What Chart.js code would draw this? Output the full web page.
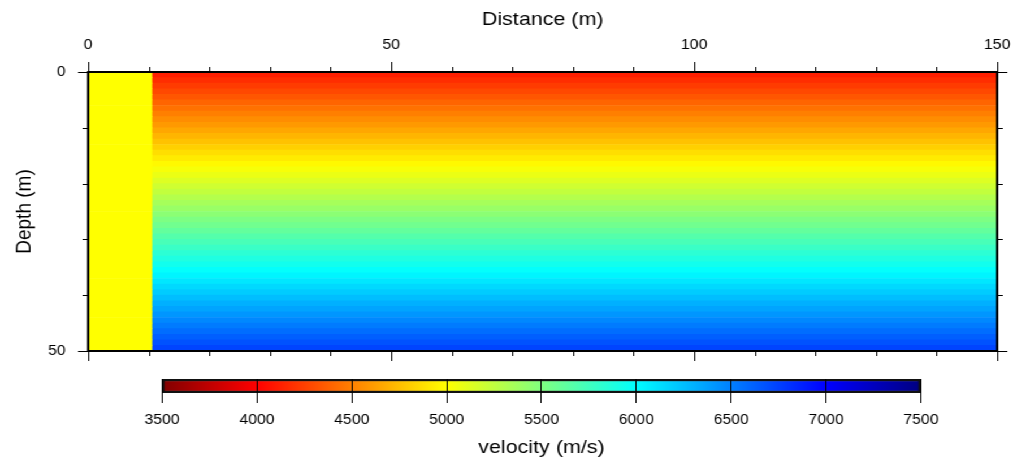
<!DOCTYPE html>
<html>
<head>
<meta charset="utf-8">
<title>Velocity model</title>
<script src="https://cdn.jsdelivr.net/npm/chart.js@4.4.1/dist/chart.umd.min.js"></script>
<style>
  html, body { margin: 0; padding: 0; background: #fff; overflow: hidden; }
  /* the reference is stretched horizontally, so draw narrow and widen */
  #stage { position: absolute; left: 0; top: 0; width: 896px; height: 461px;
           transform: scaleX(1.1306); transform-origin: 0 0; }
  #model { position: absolute; left: 0; top: 0; }
  #bar { position: absolute; left: 0; top: 360px; }
</style>
</head>
<body>
<div id="stage">
  <canvas id="model" width="896" height="372"></canvas>
  <canvas id="bar" width="896" height="101"></canvas>
</div>
<script>
// --- data: 1 m depth bands, velocity in m/s ---
const depthBands = [
  0.5, 1.5, 2.5, 3.5, 4.5, 5.5, 6.5, 7.5, 8.5, 9.5,
  10.5, 11.5, 12.5, 13.5, 14.5, 15.5, 16.5, 17.5, 18.5, 19.5,
  20.5, 21.5, 22.5, 23.5, 24.5, 25.5, 26.5, 27.5, 28.5, 29.5,
  30.5, 31.5, 32.5, 33.5, 34.5, 35.5, 36.5, 37.5, 38.5, 39.5,
  40.5, 41.5, 42.5, 43.5, 44.5, 45.5, 46.5, 47.5, 48.5, 49.5
];
const velocities = [
  4120, 4175, 4230, 4280, 4335, 4390, 4440, 4495, 4550, 4600,
  4655, 4710, 4760, 4815, 4870, 4920, 4975, 5030, 5080, 5135,
  5190, 5240, 5295, 5350, 5400, 5455, 5510, 5560, 5615, 5670,
  5720, 5775, 5830, 5880, 5935, 5990, 6040, 6095, 6150, 6200,
  6255, 6310, 6360, 6415, 6470, 6520, 6575, 6630, 6680, 6735
];
const blockEnd = 10.5;        // m, constant block on the left
const blockVelocity = 5000;
const modelEnd = 150;
const cbTicks = [3500, 4000, 4500, 5000, 5500, 6000, 6500, 7000, 7500];

// colour table (one colour per colour-bar tick, linear in between)
const CMAP = [
  [128, 0, 0], [255, 0, 0], [255, 128, 0], [255, 255, 0], [128, 255, 128],
  [0, 255, 255], [0, 128, 255], [0, 0, 255], [0, 0, 128]
];
const rgb = (c) => `rgb(${c.map(Math.round).join(",")})`;
function vColor(v) {
  const lo = cbTicks[0], step = cbTicks[1] - cbTicks[0];
  const f = Math.max(0, Math.min(CMAP.length - 1, (v - lo) / step));
  const i = Math.min(CMAP.length - 2, Math.floor(f)), t = f - i;
  return rgb(CMAP[i].map((c, k) => c + (CMAP[i + 1][k] - c) * t));
}

const FONT = "'Liberation Sans', Arial, sans-serif";
Chart.defaults.font.family = FONT;
Chart.defaults.color = "#000";
const plain = (v) => String(v);
// fixed axis size, no extra room for overhanging labels
const fixSize = (w, h) => (s) => {
  if (w !== null) s.width = w;
  if (h !== null) s.height = h;
  s.paddingLeft = s.paddingRight = s.paddingTop = s.paddingBottom = 0;
};

// frame and outward tick marks on all four sides
const frameTicks = {
  id: "frameTicks",
  afterDraw(chart) {
    const { ctx, chartArea: a, scales: { x, y } } = chart;
    ctx.save();
    ctx.strokeStyle = "#000";
    ctx.lineWidth = 1;
    ctx.beginPath();
    for (let d = 0; d <= modelEnd; d += 10) {
      const px = Math.round(x.getPixelForValue(d)) + 0.5;
      const len = d % 50 === 0 ? 10 : 5;
      ctx.moveTo(px, a.top); ctx.lineTo(px, a.top - len);
      ctx.moveTo(px, a.bottom); ctx.lineTo(px, a.bottom + len);
    }
    for (let z = 0; z <= 50; z += 10) {
      const py = Math.round(y.getPixelForValue(z)) + 0.5;
      const len = z % 50 === 0 ? 9 : 5;
      ctx.moveTo(a.left, py); ctx.lineTo(a.left - len, py);
      ctx.moveTo(a.right, py); ctx.lineTo(a.right + len, py);
    }
    ctx.stroke();
    ctx.lineWidth = 2;
    ctx.strokeRect(a.left, a.top, a.right - a.left, a.bottom - a.top);
    ctx.restore();
  }
};

new Chart(document.getElementById("model"), {
  type: "bar",
  data: {
    datasets: [
      { label: "block", data: depthBands.map(z => ({ y: z, x: [0, blockEnd] })),
        backgroundColor: vColor(blockVelocity) },
      { label: "velocity", data: depthBands.map(z => ({ y: z, x: [blockEnd, modelEnd] })),
        backgroundColor: velocities.map(vColor) },
    ]
  },
  options: {
    indexAxis: "y", responsive: false, animation: false, events: [],
    datasets: { bar: { grouped: false, categoryPercentage: 1, barPercentage: 1, borderWidth: 0 } },
    layout: { padding: { left: 0, top: 0, right: 14, bottom: 21 } },
    plugins: { legend: { display: false }, tooltip: { enabled: false } },
    scales: {
      x: {
        type: "linear", position: "top", min: 0, max: modelEnd, offset: false,
        grid: { display: false, drawTicks: false }, border: { display: false },
        ticks: { stepSize: 50, padding: 18, font: { size: 14 }, maxRotation: 0, callback: plain },
        title: { display: true, text: "Distance (m)", font: { size: 19 }, padding: { top: 8, bottom: 0 } },
        afterFit: fixSize(null, 72)
      },
      y: {
        type: "linear", min: 0, max: 50, reverse: true, offset: false,
        grid: { display: false, drawTicks: false }, border: { display: false },
        ticks: { stepSize: 50, padding: 20, font: { size: 14 }, callback: plain },
        title: { display: true, text: "Depth (m)", font: { size: 19 }, padding: { top: 10, bottom: 0 } },
        afterFit: fixSize(78, null)
      }
    }
  },
  plugins: [frameTicks]
});

// colour bar: one floating bar with the colour table as gradient
function cbGradient(c) {
  const chart = c.chart;
  if (!chart.chartArea) return "#ccc";
  const xs = chart.scales.x;
  const lo = cbTicks[0], hi = cbTicks[cbTicks.length - 1];
  const g = chart.ctx.createLinearGradient(xs.getPixelForValue(lo), 0, xs.getPixelForValue(hi), 0);
  cbTicks.forEach((v, i) => g.addColorStop((v - lo) / (hi - lo), rgb(CMAP[i])));
  return g;
}

new Chart(document.getElementById("bar"), {
  type: "bar",
  data: {
    labels: ["velocity"],
    datasets: [{ data: [[cbTicks[0], cbTicks[cbTicks.length - 1]]],
      backgroundColor: cbGradient, borderColor: "#111", borderWidth: 2.5, borderSkipped: false }]
  },
  options: {
    indexAxis: "y", responsive: false, animation: false, events: [],
    datasets: { bar: { categoryPercentage: 1, barPercentage: 1 } },
    layout: { padding: { left: 143.3, right: 81.4, top: 19, bottom: 0 } },
    plugins: { legend: { display: false }, tooltip: { enabled: false } },
    scales: {
      y: { display: false },
      x: {
        type: "linear", position: "bottom", min: cbTicks[0], max: cbTicks[cbTicks.length - 1],
        afterBuildTicks: (s) => { s.ticks = cbTicks.map(v => ({ value: v })); },
        // z: 1 puts the separators on top of the colour bar
        grid: { z: 1, color: "#000", lineWidth: 1, tickLength: 10, tickColor: "#000" },
        border: { display: false },
        ticks: { padding: 9, font: { size: 14 }, maxRotation: 0, callback: plain },
        title: { display: true, text: "velocity (m/s)", font: { size: 19 }, padding: { top: 0, bottom: 1.6 } },
        afterFit: fixSize(null, 68)
      }
    }
  }
});
</script>
</body>
</html>
